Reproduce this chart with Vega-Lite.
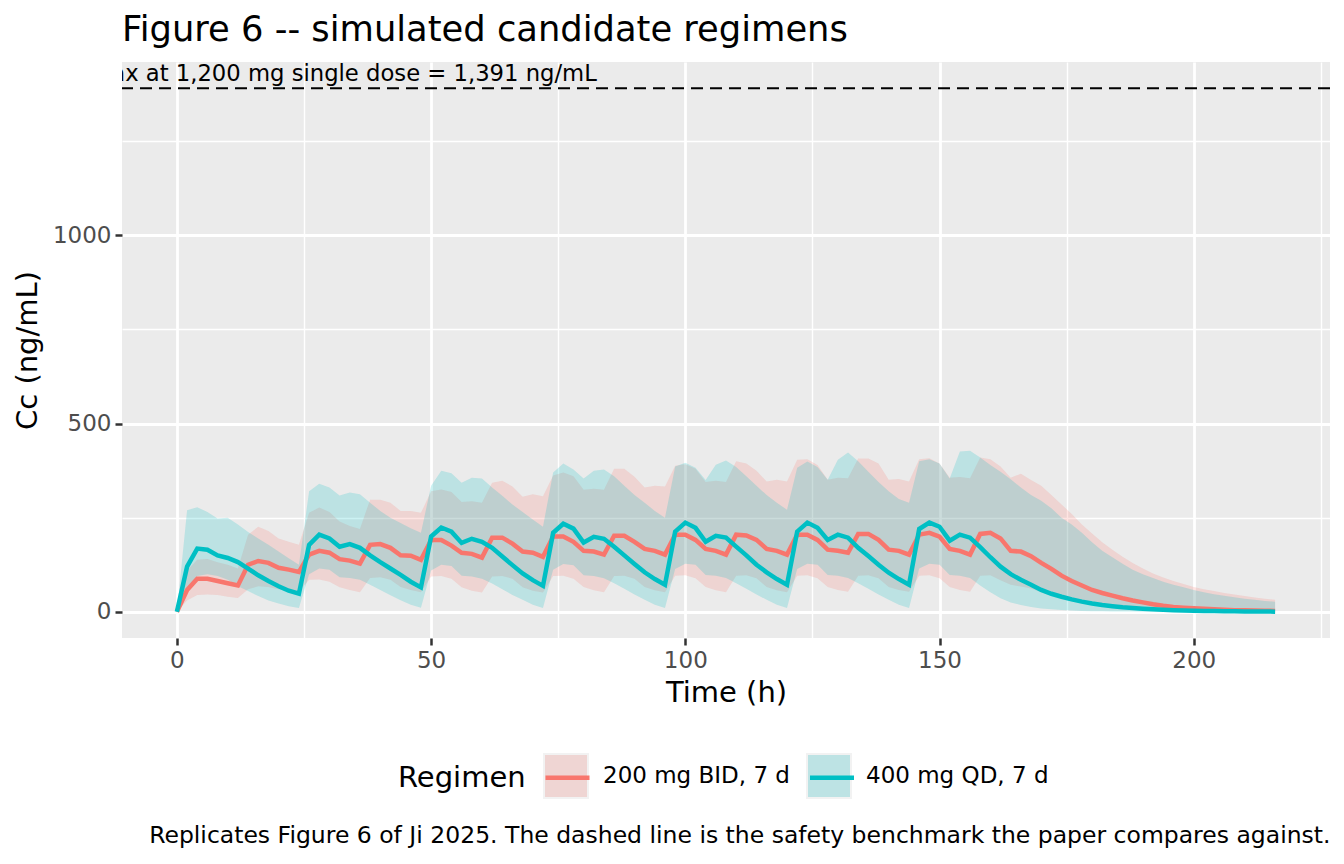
{
  "$schema": "https://vega.github.io/schema/vega-lite/v6.json",
  "autosize": {"type": "none"},
  "padding": {"left": 122, "top": 62, "right": 14, "bottom": 226},
  "width": 1208,
  "height": 576,
  "background": "white",
  "config": {
    "font": "DejaVu Sans",
    "view": {"fill": "#EBEBEB", "stroke": null},
    "axis": {
      "domain": false,
      "gridColor": "white",
      "tickColor": "#333333",
      "tickSize": 7,
      "tickWidth": 2.5,
      "labelColor": "#4D4D4D",
      "labelFontSize": 23,
      "labelOverlap": false,
      "labelFlush": false,
      "titleFontSize": 29,
      "titleFontWeight": "normal",
      "titleColor": "black"
    }
  },
  "title": {
    "text": "Figure 6 -- simulated candidate regimens",
    "anchor": "start",
    "frame": "group",
    "fontSize": 35.3,
    "fontWeight": "normal",
    "color": "black",
    "offset": 14
  },
  "resolve": {"scale": {"x": "independent"}, "axis": {"x": "independent"}},
  "layer": [
    {
      "data": {
        "values": [
          {"time": 0, "regimen": "200 mg BID, 7 d", "median": 0, "lo": 0, "hi": 0},
          {"time": 2, "regimen": "200 mg BID, 7 d", "median": 58, "lo": 30, "hi": 110},
          {"time": 4, "regimen": "200 mg BID, 7 d", "median": 88, "lo": 45, "hi": 138},
          {"time": 6, "regimen": "200 mg BID, 7 d", "median": 88, "lo": 46, "hi": 140},
          {"time": 8, "regimen": "200 mg BID, 7 d", "median": 82, "lo": 45, "hi": 132},
          {"time": 10, "regimen": "200 mg BID, 7 d", "median": 76, "lo": 40, "hi": 125},
          {"time": 12, "regimen": "200 mg BID, 7 d", "median": 70, "lo": 37, "hi": 115},
          {"time": 14, "regimen": "200 mg BID, 7 d", "median": 125, "lo": 60, "hi": 205},
          {"time": 16, "regimen": "200 mg BID, 7 d", "median": 135, "lo": 68, "hi": 226},
          {"time": 18, "regimen": "200 mg BID, 7 d", "median": 130, "lo": 66, "hi": 215},
          {"time": 20, "regimen": "200 mg BID, 7 d", "median": 117, "lo": 60, "hi": 195},
          {"time": 22, "regimen": "200 mg BID, 7 d", "median": 112, "lo": 57, "hi": 186},
          {"time": 24, "regimen": "200 mg BID, 7 d", "median": 106, "lo": 54, "hi": 178},
          {"time": 26, "regimen": "200 mg BID, 7 d", "median": 152, "lo": 85, "hi": 263},
          {"time": 28, "regimen": "200 mg BID, 7 d", "median": 162, "lo": 86, "hi": 277},
          {"time": 30, "regimen": "200 mg BID, 7 d", "median": 157, "lo": 80, "hi": 265},
          {"time": 32, "regimen": "200 mg BID, 7 d", "median": 140, "lo": 65, "hi": 240},
          {"time": 34, "regimen": "200 mg BID, 7 d", "median": 136, "lo": 58, "hi": 228},
          {"time": 36, "regimen": "200 mg BID, 7 d", "median": 128, "lo": 52, "hi": 220},
          {"time": 38, "regimen": "200 mg BID, 7 d", "median": 178, "lo": 90, "hi": 298},
          {"time": 40, "regimen": "200 mg BID, 7 d", "median": 180, "lo": 92, "hi": 298},
          {"time": 42, "regimen": "200 mg BID, 7 d", "median": 170, "lo": 85, "hi": 290},
          {"time": 44, "regimen": "200 mg BID, 7 d", "median": 150, "lo": 66, "hi": 268},
          {"time": 46, "regimen": "200 mg BID, 7 d", "median": 149, "lo": 58, "hi": 268},
          {"time": 48, "regimen": "200 mg BID, 7 d", "median": 138, "lo": 52, "hi": 263},
          {"time": 50, "regimen": "200 mg BID, 7 d", "median": 191, "lo": 94, "hi": 320},
          {"time": 52, "regimen": "200 mg BID, 7 d", "median": 191, "lo": 95, "hi": 325},
          {"time": 54, "regimen": "200 mg BID, 7 d", "median": 176, "lo": 88, "hi": 318},
          {"time": 56, "regimen": "200 mg BID, 7 d", "median": 157, "lo": 65, "hi": 292},
          {"time": 58, "regimen": "200 mg BID, 7 d", "median": 154, "lo": 56, "hi": 294},
          {"time": 60, "regimen": "200 mg BID, 7 d", "median": 144, "lo": 51, "hi": 290},
          {"time": 62, "regimen": "200 mg BID, 7 d", "median": 197, "lo": 94, "hi": 343},
          {"time": 64, "regimen": "200 mg BID, 7 d", "median": 197, "lo": 95, "hi": 348},
          {"time": 66, "regimen": "200 mg BID, 7 d", "median": 181, "lo": 88, "hi": 333},
          {"time": 68, "regimen": "200 mg BID, 7 d", "median": 160, "lo": 65, "hi": 306},
          {"time": 70, "regimen": "200 mg BID, 7 d", "median": 157, "lo": 56, "hi": 312},
          {"time": 72, "regimen": "200 mg BID, 7 d", "median": 146, "lo": 51, "hi": 307},
          {"time": 74, "regimen": "200 mg BID, 7 d", "median": 200, "lo": 95, "hi": 362},
          {"time": 76, "regimen": "200 mg BID, 7 d", "median": 200, "lo": 96, "hi": 370},
          {"time": 78, "regimen": "200 mg BID, 7 d", "median": 186, "lo": 88, "hi": 360},
          {"time": 80, "regimen": "200 mg BID, 7 d", "median": 162, "lo": 66, "hi": 324},
          {"time": 82, "regimen": "200 mg BID, 7 d", "median": 160, "lo": 57, "hi": 327},
          {"time": 84, "regimen": "200 mg BID, 7 d", "median": 152, "lo": 52, "hi": 324},
          {"time": 86, "regimen": "200 mg BID, 7 d", "median": 202, "lo": 95, "hi": 380},
          {"time": 88, "regimen": "200 mg BID, 7 d", "median": 202, "lo": 96, "hi": 380},
          {"time": 90, "regimen": "200 mg BID, 7 d", "median": 186, "lo": 88, "hi": 359},
          {"time": 92, "regimen": "200 mg BID, 7 d", "median": 167, "lo": 66, "hi": 330},
          {"time": 94, "regimen": "200 mg BID, 7 d", "median": 162, "lo": 57, "hi": 335},
          {"time": 96, "regimen": "200 mg BID, 7 d", "median": 152, "lo": 52, "hi": 333},
          {"time": 98, "regimen": "200 mg BID, 7 d", "median": 205, "lo": 96, "hi": 388},
          {"time": 100, "regimen": "200 mg BID, 7 d", "median": 205, "lo": 97, "hi": 392},
          {"time": 102, "regimen": "200 mg BID, 7 d", "median": 191, "lo": 89, "hi": 380},
          {"time": 104, "regimen": "200 mg BID, 7 d", "median": 167, "lo": 66, "hi": 345},
          {"time": 106, "regimen": "200 mg BID, 7 d", "median": 162, "lo": 57, "hi": 348},
          {"time": 108, "regimen": "200 mg BID, 7 d", "median": 152, "lo": 52, "hi": 345},
          {"time": 110, "regimen": "200 mg BID, 7 d", "median": 205, "lo": 96, "hi": 400},
          {"time": 112, "regimen": "200 mg BID, 7 d", "median": 203, "lo": 97, "hi": 394},
          {"time": 114, "regimen": "200 mg BID, 7 d", "median": 191, "lo": 89, "hi": 375},
          {"time": 116, "regimen": "200 mg BID, 7 d", "median": 167, "lo": 66, "hi": 346},
          {"time": 118, "regimen": "200 mg BID, 7 d", "median": 162, "lo": 57, "hi": 351},
          {"time": 120, "regimen": "200 mg BID, 7 d", "median": 152, "lo": 52, "hi": 346},
          {"time": 122, "regimen": "200 mg BID, 7 d", "median": 205, "lo": 96, "hi": 404},
          {"time": 124, "regimen": "200 mg BID, 7 d", "median": 205, "lo": 97, "hi": 405},
          {"time": 126, "regimen": "200 mg BID, 7 d", "median": 191, "lo": 89, "hi": 390},
          {"time": 128, "regimen": "200 mg BID, 7 d", "median": 165, "lo": 66, "hi": 351},
          {"time": 130, "regimen": "200 mg BID, 7 d", "median": 162, "lo": 58, "hi": 356},
          {"time": 132, "regimen": "200 mg BID, 7 d", "median": 157, "lo": 53, "hi": 355},
          {"time": 134, "regimen": "200 mg BID, 7 d", "median": 207, "lo": 96, "hi": 407},
          {"time": 136, "regimen": "200 mg BID, 7 d", "median": 207, "lo": 97, "hi": 407},
          {"time": 138, "regimen": "200 mg BID, 7 d", "median": 191, "lo": 89, "hi": 394},
          {"time": 140, "regimen": "200 mg BID, 7 d", "median": 165, "lo": 66, "hi": 351},
          {"time": 142, "regimen": "200 mg BID, 7 d", "median": 162, "lo": 58, "hi": 353},
          {"time": 144, "regimen": "200 mg BID, 7 d", "median": 152, "lo": 53, "hi": 346},
          {"time": 146, "regimen": "200 mg BID, 7 d", "median": 205, "lo": 96, "hi": 405},
          {"time": 148, "regimen": "200 mg BID, 7 d", "median": 210, "lo": 97, "hi": 408},
          {"time": 150, "regimen": "200 mg BID, 7 d", "median": 200, "lo": 89, "hi": 394},
          {"time": 152, "regimen": "200 mg BID, 7 d", "median": 167, "lo": 66, "hi": 356},
          {"time": 154, "regimen": "200 mg BID, 7 d", "median": 162, "lo": 58, "hi": 358},
          {"time": 156, "regimen": "200 mg BID, 7 d", "median": 152, "lo": 53, "hi": 355},
          {"time": 158, "regimen": "200 mg BID, 7 d", "median": 207, "lo": 96, "hi": 410},
          {"time": 160, "regimen": "200 mg BID, 7 d", "median": 210, "lo": 97, "hi": 405},
          {"time": 162, "regimen": "200 mg BID, 7 d", "median": 195, "lo": 84, "hi": 386},
          {"time": 164, "regimen": "200 mg BID, 7 d", "median": 162, "lo": 72, "hi": 356},
          {"time": 166, "regimen": "200 mg BID, 7 d", "median": 160, "lo": 67, "hi": 367},
          {"time": 168, "regimen": "200 mg BID, 7 d", "median": 148, "lo": 62, "hi": 350},
          {"time": 170, "regimen": "200 mg BID, 7 d", "median": 130, "lo": 52, "hi": 335},
          {"time": 172, "regimen": "200 mg BID, 7 d", "median": 114, "lo": 45, "hi": 310},
          {"time": 174, "regimen": "200 mg BID, 7 d", "median": 96, "lo": 39, "hi": 285},
          {"time": 176, "regimen": "200 mg BID, 7 d", "median": 82, "lo": 34, "hi": 260},
          {"time": 178, "regimen": "200 mg BID, 7 d", "median": 70, "lo": 29, "hi": 232},
          {"time": 180, "regimen": "200 mg BID, 7 d", "median": 58, "lo": 25, "hi": 208},
          {"time": 182, "regimen": "200 mg BID, 7 d", "median": 50, "lo": 21, "hi": 185},
          {"time": 184, "regimen": "200 mg BID, 7 d", "median": 43, "lo": 18, "hi": 165},
          {"time": 186, "regimen": "200 mg BID, 7 d", "median": 36, "lo": 15, "hi": 146},
          {"time": 188, "regimen": "200 mg BID, 7 d", "median": 30, "lo": 12.5, "hi": 130},
          {"time": 190, "regimen": "200 mg BID, 7 d", "median": 25, "lo": 10.5, "hi": 115},
          {"time": 192, "regimen": "200 mg BID, 7 d", "median": 20, "lo": 9, "hi": 102},
          {"time": 194, "regimen": "200 mg BID, 7 d", "median": 16, "lo": 7.5, "hi": 91},
          {"time": 196, "regimen": "200 mg BID, 7 d", "median": 13, "lo": 6.5, "hi": 82},
          {"time": 198, "regimen": "200 mg BID, 7 d", "median": 11, "lo": 5.5, "hi": 74},
          {"time": 200, "regimen": "200 mg BID, 7 d", "median": 9.5, "lo": 4.7, "hi": 66},
          {"time": 202, "regimen": "200 mg BID, 7 d", "median": 8, "lo": 4, "hi": 60},
          {"time": 204, "regimen": "200 mg BID, 7 d", "median": 6.5, "lo": 3.5, "hi": 55},
          {"time": 206, "regimen": "200 mg BID, 7 d", "median": 5.5, "lo": 3, "hi": 50},
          {"time": 208, "regimen": "200 mg BID, 7 d", "median": 4.5, "lo": 2.6, "hi": 46},
          {"time": 210, "regimen": "200 mg BID, 7 d", "median": 4, "lo": 2.3, "hi": 42},
          {"time": 212, "regimen": "200 mg BID, 7 d", "median": 3.5, "lo": 2, "hi": 38},
          {"time": 214, "regimen": "200 mg BID, 7 d", "median": 3, "lo": 1.8, "hi": 35},
          {"time": 216, "regimen": "200 mg BID, 7 d", "median": 2.5, "lo": 1.6, "hi": 32},
          {"time": 0, "regimen": "400 mg QD, 7 d", "median": 0, "lo": 0, "hi": 0},
          {"time": 2, "regimen": "400 mg QD, 7 d", "median": 120, "lo": 60, "hi": 270},
          {"time": 4, "regimen": "400 mg QD, 7 d", "median": 168, "lo": 95, "hi": 278},
          {"time": 6, "regimen": "400 mg QD, 7 d", "median": 165, "lo": 100, "hi": 265},
          {"time": 8, "regimen": "400 mg QD, 7 d", "median": 150, "lo": 95, "hi": 248},
          {"time": 10, "regimen": "400 mg QD, 7 d", "median": 143, "lo": 85, "hi": 250},
          {"time": 12, "regimen": "400 mg QD, 7 d", "median": 132, "lo": 68, "hi": 232},
          {"time": 14, "regimen": "400 mg QD, 7 d", "median": 115, "lo": 55, "hi": 212},
          {"time": 16, "regimen": "400 mg QD, 7 d", "median": 97, "lo": 42, "hi": 195},
          {"time": 18, "regimen": "400 mg QD, 7 d", "median": 82, "lo": 30, "hi": 178},
          {"time": 20, "regimen": "400 mg QD, 7 d", "median": 68, "lo": 22, "hi": 160},
          {"time": 22, "regimen": "400 mg QD, 7 d", "median": 56, "lo": 15, "hi": 142},
          {"time": 24, "regimen": "400 mg QD, 7 d", "median": 48, "lo": 10, "hi": 125},
          {"time": 26, "regimen": "400 mg QD, 7 d", "median": 178, "lo": 100, "hi": 320},
          {"time": 28, "regimen": "400 mg QD, 7 d", "median": 205, "lo": 115, "hi": 340},
          {"time": 30, "regimen": "400 mg QD, 7 d", "median": 195, "lo": 112, "hi": 330},
          {"time": 32, "regimen": "400 mg QD, 7 d", "median": 173, "lo": 92, "hi": 309},
          {"time": 34, "regimen": "400 mg QD, 7 d", "median": 180, "lo": 90, "hi": 317},
          {"time": 36, "regimen": "400 mg QD, 7 d", "median": 170, "lo": 85, "hi": 312},
          {"time": 38, "regimen": "400 mg QD, 7 d", "median": 150, "lo": 72, "hi": 290},
          {"time": 40, "regimen": "400 mg QD, 7 d", "median": 132, "lo": 58, "hi": 268},
          {"time": 42, "regimen": "400 mg QD, 7 d", "median": 115, "lo": 44, "hi": 250},
          {"time": 44, "regimen": "400 mg QD, 7 d", "median": 98, "lo": 31, "hi": 236},
          {"time": 46, "regimen": "400 mg QD, 7 d", "median": 80, "lo": 19, "hi": 222},
          {"time": 48, "regimen": "400 mg QD, 7 d", "median": 65, "lo": 11, "hi": 210},
          {"time": 50, "regimen": "400 mg QD, 7 d", "median": 200, "lo": 110, "hi": 335},
          {"time": 52, "regimen": "400 mg QD, 7 d", "median": 224, "lo": 125, "hi": 375},
          {"time": 54, "regimen": "400 mg QD, 7 d", "median": 213, "lo": 122, "hi": 368},
          {"time": 56, "regimen": "400 mg QD, 7 d", "median": 183, "lo": 96, "hi": 343},
          {"time": 58, "regimen": "400 mg QD, 7 d", "median": 194, "lo": 94, "hi": 356},
          {"time": 60, "regimen": "400 mg QD, 7 d", "median": 186, "lo": 88, "hi": 354},
          {"time": 62, "regimen": "400 mg QD, 7 d", "median": 170, "lo": 75, "hi": 330},
          {"time": 64, "regimen": "400 mg QD, 7 d", "median": 147, "lo": 60, "hi": 308},
          {"time": 66, "regimen": "400 mg QD, 7 d", "median": 124, "lo": 45, "hi": 285},
          {"time": 68, "regimen": "400 mg QD, 7 d", "median": 102, "lo": 32, "hi": 265},
          {"time": 70, "regimen": "400 mg QD, 7 d", "median": 84, "lo": 19, "hi": 245},
          {"time": 72, "regimen": "400 mg QD, 7 d", "median": 69, "lo": 10, "hi": 226},
          {"time": 74, "regimen": "400 mg QD, 7 d", "median": 210, "lo": 112, "hi": 370},
          {"time": 76, "regimen": "400 mg QD, 7 d", "median": 234, "lo": 127, "hi": 394},
          {"time": 78, "regimen": "400 mg QD, 7 d", "median": 221, "lo": 124, "hi": 378},
          {"time": 80, "regimen": "400 mg QD, 7 d", "median": 184, "lo": 97, "hi": 354},
          {"time": 82, "regimen": "400 mg QD, 7 d", "median": 199, "lo": 95, "hi": 375},
          {"time": 84, "regimen": "400 mg QD, 7 d", "median": 194, "lo": 89, "hi": 378},
          {"time": 86, "regimen": "400 mg QD, 7 d", "median": 173, "lo": 76, "hi": 360},
          {"time": 88, "regimen": "400 mg QD, 7 d", "median": 150, "lo": 61, "hi": 335},
          {"time": 90, "regimen": "400 mg QD, 7 d", "median": 127, "lo": 46, "hi": 310},
          {"time": 92, "regimen": "400 mg QD, 7 d", "median": 105, "lo": 32, "hi": 290},
          {"time": 94, "regimen": "400 mg QD, 7 d", "median": 87, "lo": 19, "hi": 268},
          {"time": 96, "regimen": "400 mg QD, 7 d", "median": 72, "lo": 10, "hi": 250},
          {"time": 98, "regimen": "400 mg QD, 7 d", "median": 213, "lo": 114, "hi": 386},
          {"time": 100, "regimen": "400 mg QD, 7 d", "median": 237, "lo": 128, "hi": 396},
          {"time": 102, "regimen": "400 mg QD, 7 d", "median": 223, "lo": 125, "hi": 383},
          {"time": 104, "regimen": "400 mg QD, 7 d", "median": 186, "lo": 98, "hi": 350},
          {"time": 106, "regimen": "400 mg QD, 7 d", "median": 202, "lo": 96, "hi": 391},
          {"time": 108, "regimen": "400 mg QD, 7 d", "median": 197, "lo": 90, "hi": 402},
          {"time": 110, "regimen": "400 mg QD, 7 d", "median": 173, "lo": 76, "hi": 385},
          {"time": 112, "regimen": "400 mg QD, 7 d", "median": 150, "lo": 61, "hi": 360},
          {"time": 114, "regimen": "400 mg QD, 7 d", "median": 125, "lo": 46, "hi": 335},
          {"time": 116, "regimen": "400 mg QD, 7 d", "median": 105, "lo": 32, "hi": 310},
          {"time": 118, "regimen": "400 mg QD, 7 d", "median": 87, "lo": 19, "hi": 290},
          {"time": 120, "regimen": "400 mg QD, 7 d", "median": 72, "lo": 10, "hi": 271},
          {"time": 122, "regimen": "400 mg QD, 7 d", "median": 213, "lo": 114, "hi": 383},
          {"time": 124, "regimen": "400 mg QD, 7 d", "median": 237, "lo": 128, "hi": 399},
          {"time": 126, "regimen": "400 mg QD, 7 d", "median": 223, "lo": 125, "hi": 385},
          {"time": 128, "regimen": "400 mg QD, 7 d", "median": 191, "lo": 98, "hi": 351},
          {"time": 130, "regimen": "400 mg QD, 7 d", "median": 205, "lo": 96, "hi": 404},
          {"time": 132, "regimen": "400 mg QD, 7 d", "median": 197, "lo": 90, "hi": 423},
          {"time": 134, "regimen": "400 mg QD, 7 d", "median": 170, "lo": 76, "hi": 400},
          {"time": 136, "regimen": "400 mg QD, 7 d", "median": 148, "lo": 61, "hi": 372},
          {"time": 138, "regimen": "400 mg QD, 7 d", "median": 125, "lo": 46, "hi": 345},
          {"time": 140, "regimen": "400 mg QD, 7 d", "median": 104, "lo": 32, "hi": 320},
          {"time": 142, "regimen": "400 mg QD, 7 d", "median": 87, "lo": 19, "hi": 300},
          {"time": 144, "regimen": "400 mg QD, 7 d", "median": 72, "lo": 10, "hi": 290},
          {"time": 146, "regimen": "400 mg QD, 7 d", "median": 220, "lo": 115, "hi": 400},
          {"time": 148, "regimen": "400 mg QD, 7 d", "median": 237, "lo": 128, "hi": 405},
          {"time": 150, "regimen": "400 mg QD, 7 d", "median": 226, "lo": 125, "hi": 394},
          {"time": 152, "regimen": "400 mg QD, 7 d", "median": 189, "lo": 98, "hi": 354},
          {"time": 154, "regimen": "400 mg QD, 7 d", "median": 205, "lo": 96, "hi": 426},
          {"time": 156, "regimen": "400 mg QD, 7 d", "median": 197, "lo": 90, "hi": 428},
          {"time": 158, "regimen": "400 mg QD, 7 d", "median": 172, "lo": 70, "hi": 410},
          {"time": 160, "regimen": "400 mg QD, 7 d", "median": 145, "lo": 52, "hi": 390},
          {"time": 162, "regimen": "400 mg QD, 7 d", "median": 120, "lo": 36, "hi": 372},
          {"time": 164, "regimen": "400 mg QD, 7 d", "median": 100, "lo": 25, "hi": 352},
          {"time": 166, "regimen": "400 mg QD, 7 d", "median": 85, "lo": 18, "hi": 330},
          {"time": 168, "regimen": "400 mg QD, 7 d", "median": 72, "lo": 13, "hi": 310},
          {"time": 170, "regimen": "400 mg QD, 7 d", "median": 58, "lo": 9, "hi": 295},
          {"time": 172, "regimen": "400 mg QD, 7 d", "median": 48, "lo": 6.5, "hi": 275},
          {"time": 174, "regimen": "400 mg QD, 7 d", "median": 40, "lo": 4.5, "hi": 250},
          {"time": 176, "regimen": "400 mg QD, 7 d", "median": 33, "lo": 3.3, "hi": 232},
          {"time": 178, "regimen": "400 mg QD, 7 d", "median": 27, "lo": 2.4, "hi": 210},
          {"time": 180, "regimen": "400 mg QD, 7 d", "median": 22, "lo": 1.8, "hi": 185},
          {"time": 182, "regimen": "400 mg QD, 7 d", "median": 18, "lo": 1.3, "hi": 162},
          {"time": 184, "regimen": "400 mg QD, 7 d", "median": 15, "lo": 1, "hi": 145},
          {"time": 186, "regimen": "400 mg QD, 7 d", "median": 12, "lo": 0.8, "hi": 128},
          {"time": 188, "regimen": "400 mg QD, 7 d", "median": 10, "lo": 0.6, "hi": 112},
          {"time": 190, "regimen": "400 mg QD, 7 d", "median": 8, "lo": 0.5, "hi": 100},
          {"time": 192, "regimen": "400 mg QD, 7 d", "median": 6.5, "lo": 0.4, "hi": 90},
          {"time": 194, "regimen": "400 mg QD, 7 d", "median": 5.3, "lo": 0.3, "hi": 80},
          {"time": 196, "regimen": "400 mg QD, 7 d", "median": 4.3, "lo": 0.25, "hi": 72},
          {"time": 198, "regimen": "400 mg QD, 7 d", "median": 3.5, "lo": 0.2, "hi": 65},
          {"time": 200, "regimen": "400 mg QD, 7 d", "median": 2.8, "lo": 0.15, "hi": 58},
          {"time": 202, "regimen": "400 mg QD, 7 d", "median": 2.3, "lo": 0.12, "hi": 52},
          {"time": 204, "regimen": "400 mg QD, 7 d", "median": 1.9, "lo": 0.1, "hi": 47},
          {"time": 206, "regimen": "400 mg QD, 7 d", "median": 1.5, "lo": 0.08, "hi": 43},
          {"time": 208, "regimen": "400 mg QD, 7 d", "median": 1.2, "lo": 0.06, "hi": 39},
          {"time": 210, "regimen": "400 mg QD, 7 d", "median": 1, "lo": 0.05, "hi": 35},
          {"time": 212, "regimen": "400 mg QD, 7 d", "median": 0.8, "lo": 0.04, "hi": 32},
          {"time": 214, "regimen": "400 mg QD, 7 d", "median": 0.7, "lo": 0.03, "hi": 29},
          {"time": 216, "regimen": "400 mg QD, 7 d", "median": 0.5, "lo": 0.03, "hi": 27}
        ]
      },
      "resolve": {"scale": {"fill": "independent"}},
      "encoding": {
        "x": {
          "field": "time",
          "type": "quantitative",
          "scale": {"domain": [-10.8, 226.8], "nice": false, "zero": false},
          "axis": {
            "title": "Time (h)",
            "values": [0, 25, 50, 75, 100, 125, 150, 175, 200, 225],
            "labelExpr": "datum.value % 50 === 0 ? datum.label : ''",
            "gridWidth": {"condition": {"test": "datum.value % 50 !== 0", "value": 1.4}, "value": 2.8},
            "tickOpacity": {"condition": {"test": "datum.value % 50 !== 0", "value": 0}, "value": 1},
            "format": "d",
            "labelPadding": 4,
            "titlePadding": 6
          }
        }
      },
      "layer": [
        {
          "mark": {"type": "area", "fillOpacity": 0.2, "strokeWidth": 0},
          "encoding": {
            "y": {
              "field": "lo",
              "type": "quantitative",
              "scale": {"domain": [-69.55, 1460.55], "nice": false, "zero": false},
              "axis": {
                "title": "Cc (ng/mL)",
                "values": [0, 250, 500, 750, 1000, 1250],
                "labelExpr": "datum.value % 500 === 0 ? datum.label : ''",
                "gridWidth": {"condition": {"test": "datum.value % 500 !== 0", "value": 1.4}, "value": 2.8},
                "tickOpacity": {"condition": {"test": "datum.value % 500 !== 0", "value": 0}, "value": 1},
                "format": "d",
                "labelPadding": 4,
                "titlePadding": 10
              }
            },
            "y2": {"field": "hi"},
            "fill": {
              "field": "regimen",
              "type": "nominal",
              "scale": {"domain": ["200 mg BID, 7 d", "400 mg QD, 7 d"], "range": ["#F8766D", "#00BFC4"]},
              "legend": null
            }
          }
        },
        {
          "mark": {"type": "square", "opacity": 0, "size": 1},
          "encoding": {
            "y": {"field": "median", "type": "quantitative"},
            "fill": {
              "field": "regimen",
              "type": "nominal",
              "scale": {"domain": ["200 mg BID, 7 d", "400 mg QD, 7 d"], "range": ["#EFD5D3", "#BDE3E4"]},
              "legend": {
                "orient": "none",
                "legendX": 276,
                "legendY": 691,
                "zindex": 0,
                "direction": "horizontal",
                "title": "Regimen",
                "titleOrient": "left",
                "titleFontSize": 29,
                "titleFontWeight": "normal",
                "titleColor": "black",
                "titlePadding": 17,
                "labelFontSize": 23,
                "labelColor": "black",
                "labelLimit": 400,
                "labelOffset": 14,
                "columnPadding": 13,
                "symbolType": "square",
                "symbolSize": 1936,
                "symbolOpacity": 1,
                "symbolStrokeColor": "#F2F2F2",
                "symbolStrokeWidth": 2
              }
            }
          }
        },
        {
          "mark": {"type": "line", "strokeWidth": 4.5},
          "encoding": {
            "y": {"field": "median", "type": "quantitative"},
            "stroke": {
              "field": "regimen",
              "type": "nominal",
              "scale": {"range": ["#F8766D", "#00BFC4"]},
              "legend": {
                "orient": "none",
                "legendX": 276,
                "legendY": 691,
                "zindex": 2,
                "direction": "horizontal",
                "title": "Regimen",
                "titleOrient": "left",
                "titleFontSize": 29,
                "titleFontWeight": "normal",
                "titleOpacity": 0,
                "titlePadding": 17,
                "labelFontSize": 23,
                "labelLimit": 400,
                "labelOpacity": 0,
                "labelOffset": 14,
                "columnPadding": 7.5,
                "symbolType": "stroke",
                "symbolSize": 1936,
                "symbolStrokeWidth": 4.5,
                "symbolOpacity": 1
              }
            }
          }
        },
        {
          "data": {"values": [{"benchmark": 1391}]},
          "mark": {"type": "rule", "color": "black", "strokeWidth": 2, "strokeDash": [12, 7]},
          "encoding": {
            "x": null,
            "y": {"field": "benchmark", "type": "quantitative"}
          }
        },
        {
          "data": {"values": [{"time": 82.6, "benchmark": 1391, "label": "Cmax at 1,200 mg single dose = 1,391 ng/mL"}]},
          "mark": {"type": "text", "align": "right", "baseline": "alphabetic", "dy": -7, "fontSize": 22.7, "color": "black", "clip": true},
          "encoding": {
            "y": {"field": "benchmark", "type": "quantitative"},
            "text": {"field": "label"}
          }
        }
      ]
    },
    {
      "data": {"values": [{"time": 0}]},
      "mark": {"type": "rule", "strokeOpacity": 0},
      "encoding": {
        "x": {
          "field": "time",
          "type": "quantitative",
          "scale": {"domain": [-10.8, 226.8], "nice": false, "zero": false},
          "axis": {
            "orient": "bottom",
            "title": "Replicates Figure 6 of Ji 2025. The dashed line is the safety benchmark the paper compares against.",
            "titleFontSize": 23.5,
            "titleAnchor": "end",
            "titleAlign": "right",
            "titlePadding": 185,
            "labels": false,
            "ticks": false,
            "grid": false
          }
        }
      }
    }
  ]
}
